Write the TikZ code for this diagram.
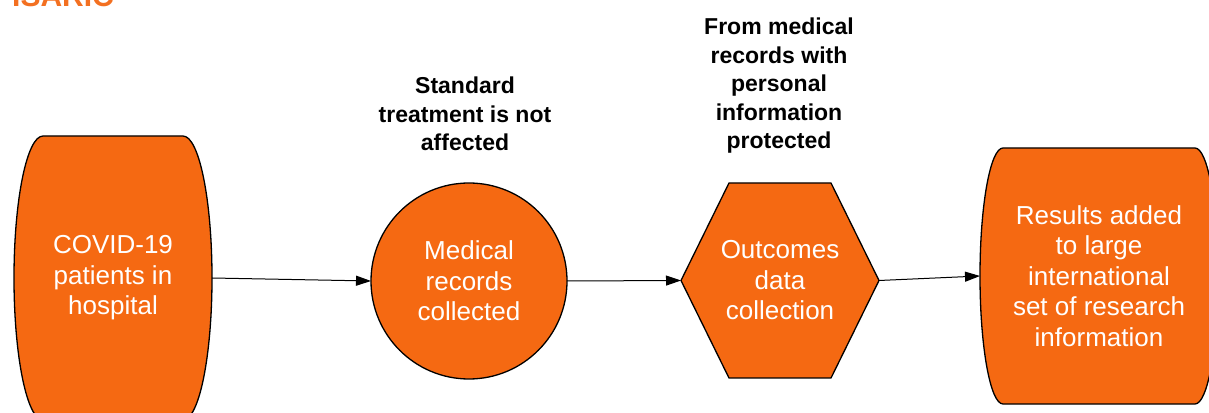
\documentclass[tikz,border=0pt]{standalone}
\usepackage{fontspec}
\setmainfont{Liberation Sans}
\usepackage{tikz}
\usetikzlibrary{arrows.meta}
\usetikzlibrary{backgrounds}
\definecolor{isorange}{RGB}{245,105,18}
\definecolor{logoorange}{RGB}{243,112,33}
\newcommand{\stepfont}{\fontsize{26}{30.5}\selectfont}
\newcommand{\notefont}{\fontsize{23}{28.5}\selectfont\bfseries}
\tikzstyle{shapeline}=[draw=black, line width=1.3pt, fill=isorange]
\tikzstyle{stepnode}=[inner sep=0, outer sep=0, text=white, align=center, font=\stepfont]
\tikzstyle{notenode}=[inner sep=0, align=center, font=\notefont]
\tikzstyle{flowarrow}=[line width=1pt, -{Triangle[length=15pt, width=10pt]}]
% Barrel outline round a node: flat top and bottom, bulging sides.
\newcommand{\barrel}[3]{\draw[shapeline] ([xshift=#2]#1.north west) -- ([xshift=-#2]#1.north east)
    arc[start angle=90, end angle=-90, x radius=#2, y radius=#3]
    -- ([xshift=#2]#1.south west)
    arc[start angle=270, end angle=90, x radius=#2, y radius=#3] -- cycle;}
\newcommand{\hexagon}[2]{\draw[shapeline] (#1.west) -- ([xshift=#2]#1.north west) -- ([xshift=-#2]#1.north east)
    -- (#1.east) -- ([xshift=-#2]#1.south east) -- ([xshift=#2]#1.south west) -- cycle;}
\begin{document}
\begin{tikzpicture}[x=1pt, y=1pt]
    \useasboundingbox (0, 0) rectangle (1209, 412);
    \clip (0, 0) rectangle (1209, 412);
    \node[anchor=base west, inner sep=0, text=logoorange, font=\fontsize{30}{30}\selectfont\bfseries] (logo) at (12, 405) {ISARIC};

    \node[stepnode, minimum width=198pt, minimum height=284pt] (patients) at (113, 134) {COVID-19\\patients in\\hospital};
    \node[stepnode, circle, minimum size=196pt] (records) at (469, 131) {Medical\\records\\collected};
    \node[stepnode, minimum width=198pt, minimum height=195pt] (outcomes) at (780, 131.5) {Outcomes\\data\\collection};
    \node[stepnode, minimum width=238pt, minimum height=256pt] (results) at (1099, 136) {Results added\\to large\\international\\set of research\\information};

    \begin{scope}[on background layer]
        \barrel{patients}{29pt}{142pt}
        \fill[isorange] (records) circle (98pt);
        \draw[line width=1.3pt] (records) circle (98pt);
        \hexagon{outcomes}{48pt}
        \barrel{results}{23pt}{128pt}
    \end{scope}

    \node[notenode] (treatment) at (465, 298) {Standard\\treatment is not\\affected};
    \node[notenode] (privacy) at (779, 326) {From medical\\records with\\personal\\information\\protected};

    \draw[flowarrow] (patients.east) -- (records.west);
    \draw[flowarrow] (records.east) -- (outcomes.west);
    \draw[flowarrow] (outcomes.east) -- (results.west);
\end{tikzpicture}
\end{document}
